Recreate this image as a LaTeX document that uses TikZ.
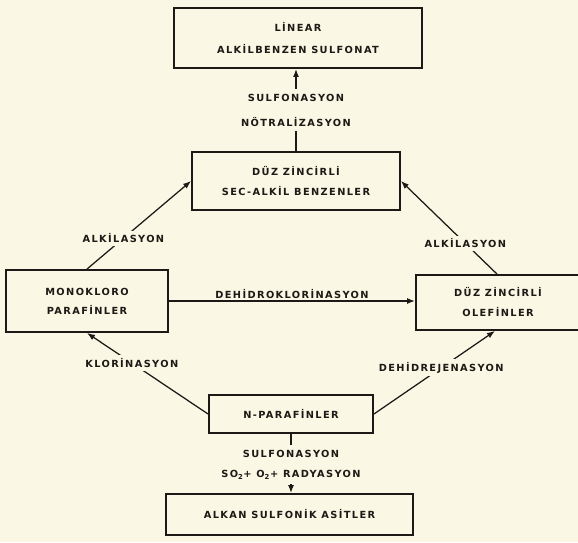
\documentclass[tikz,border=0pt]{standalone}
\usepackage{fontspec}
\newfontfamily\lbl{DejaVu Sans}[LetterSpace=14]
\usetikzlibrary{arrows.meta}
\definecolor{paper}{RGB}{250,247,228}
\definecolor{ink}{RGB}{28,25,22}
\tikzset{
  box/.style={draw=ink, line width=1.9pt, fill=paper, inner sep=0pt, align=center, text=ink,
    font=\lbl\bfseries\fontsize{9.8}{20}\selectfont},
  conn/.style={draw=ink, line width=1.25pt},
  arr/.style={conn, -{Latex[length=8pt,width=6pt]}},
  lab/.style={fill=paper, text=ink, inner sep=3pt, align=center,
    font=\lbl\bfseries\fontsize{9.8}{20}\selectfont}
}
\begin{document}
\begin{tikzpicture}[x=1pt,y=-1pt]
\fill[paper] (0,0) rectangle (578,542);
\useasboundingbox (0,0) rectangle (578,542);

\node[box, minimum width=248pt, minimum height=60pt, font=\lbl\bfseries\fontsize{9.8}{22}\selectfont] (b1) at (298,38) {LİNEAR\\ALKİLBENZEN SULFONAT};
\node[box, minimum width=208pt, minimum height=58pt] (b2) at (296,181) {DÜZ ZİNCİRLİ\\SEC-ALKİL BENZENLER};
\node[box, minimum width=162pt, minimum height=62pt, font=\lbl\bfseries\fontsize{9.8}{19}\selectfont] (lbox) at (87,301) {MONOKLORO\\PARAFİNLER};
\node[box, minimum width=164pt, minimum height=55pt] (rbox) at (498,302.5) {DÜZ ZİNCİRLİ\\OLEFİNLER};
\node[box, minimum width=164pt, minimum height=38pt] (nbox) at (291,414) {N-PARAFİNLER};
\node[box, minimum width=247pt, minimum height=41pt] (bbox) at (289.5,514.5) {ALKAN SULFONİK ASİTLER};

\draw[arr] (b2.north) -- node[lab, inner ysep=5pt, font=\lbl\bfseries\fontsize{9.8}{25}\selectfont, pos=0.5] {SULFONASYON\\NÖTRALİZASYON} (b2.north |- b1.south);
\draw[arr] (lbox.north) -- node[lab, pos=0.35] {ALKİLASYON} (b2.west);
\draw[arr] (rbox.north -| 497,0) -- node[lab, pos=0.33] {ALKİLASYON} (b2.east);
\draw[arr] (lbox.east) -- node[lab, above, inner sep=2pt, fill=none, pos=0.5] {DEHİDROKLORİNASYON} (lbox.east -| rbox.west);
\draw[arr] (nbox.west) -- node[lab, pos=0.63] {KLORİNASYON} (lbox.south);
\draw[arr] (nbox.east) -- node[lab, pos=0.556] {DEHİDREJENASYON} (rbox.south -| 495,0);
\draw[arr] (nbox.south) -- node[lab, inner ysep=5pt, pos=0.52] {SULFONASYON\\SO\textsubscript{2}+ O\textsubscript{2}+ RADYASYON} (nbox.south |- bbox.north);
\end{tikzpicture}
\end{document}
